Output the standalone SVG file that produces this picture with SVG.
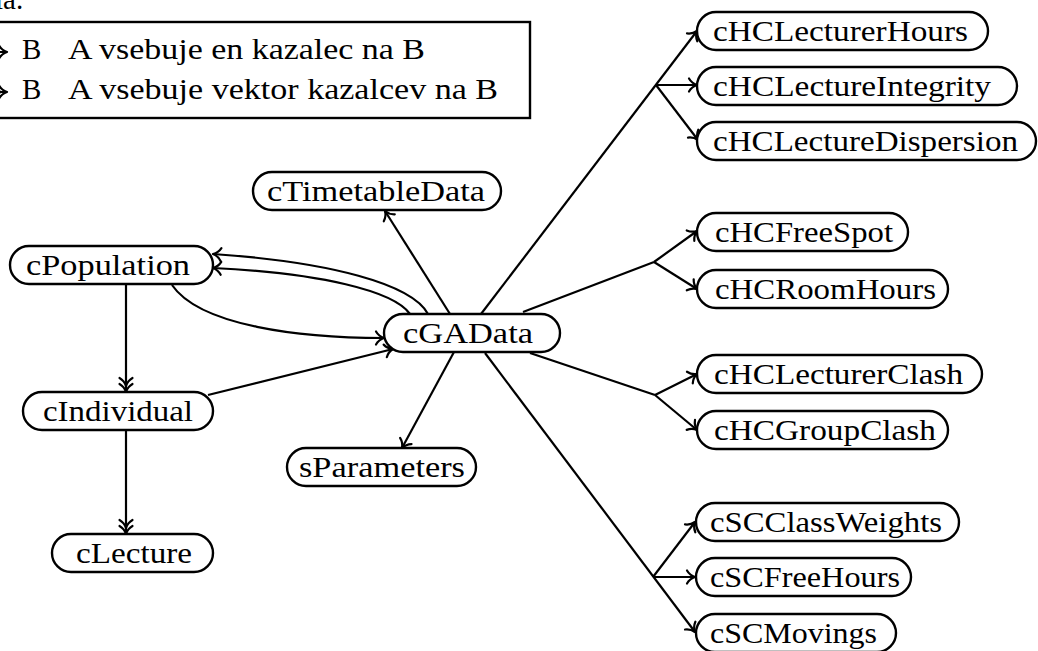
<svg xmlns="http://www.w3.org/2000/svg" width="1038" height="651" viewBox="0 0 1038 651">
  <style>
    .node rect { fill: #fff; stroke: #000; stroke-width: 2.4; }
    .node text, .lbl { font-family: "Liberation Serif", "Times New Roman", serif; font-size: 29px; fill: #000; }
    .node text { text-anchor: middle; }
    .edge { fill: none; stroke: #000; stroke-width: 2.2; }
    .one { marker-end: url(#arr); }
    .two { marker-end: url(#arr2); }
  </style>
  <defs>
    <marker id="arr" viewBox="-10 -8 12 16" refX="0" refY="0" markerWidth="12" markerHeight="16" markerUnits="userSpaceOnUse" orient="auto" overflow="visible">
      <path d="M -8 -6.5 C -6 -3 -2.5 -0.8 0 0 C -2.5 0.8 -6 3 -8 6.5" fill="none" stroke="#000" stroke-width="2.2" stroke-linecap="round" stroke-linejoin="round"/>
    </marker>
    <marker id="arr2" viewBox="-16 -8 18 16" refX="0" refY="0" markerWidth="18" markerHeight="16" markerUnits="userSpaceOnUse" orient="auto" overflow="visible">
      <path d="M -8 -6.5 C -6 -3 -2.5 -0.8 0 0 C -2.5 0.8 -6 3 -8 6.5 M -14 -6.5 C -12 -3 -8.5 -0.8 -6 0 C -8.5 0.8 -12 3 -14 6.5" fill="none" stroke="#000" stroke-width="2.2" stroke-linecap="round" stroke-linejoin="round"/>
    </marker>
  </defs>

  <!-- caption fragment and legend -->
  <g id="legend">
    <text class="lbl" x="-5" y="9">ia.</text>
    <rect x="-3" y="22" width="533" height="96" fill="none" stroke="#000" stroke-width="2.4"/>
    <path class="edge one" d="M -30 52 L 7 52"/>
    <path class="edge two" d="M -30 92 L 7 92"/>
    <text class="lbl" x="22" y="59">B</text>
    <text class="lbl" x="68" y="59" textLength="357" lengthAdjust="spacingAndGlyphs">A vsebuje en kazalec na B</text>
    <text class="lbl" x="22" y="99">B</text>
    <text class="lbl" x="68" y="99" textLength="430" lengthAdjust="spacingAndGlyphs">A vsebuje vektor kazalcev na B</text>
  </g>

  <!-- connectors -->
  <g id="edges">
    <path class="edge one" d="M 450 314 L 385 211"/>
    <path class="edge one" d="M 428 314 C 412 284 330 262 213 254"/>
    <path class="edge one" d="M 410 314 C 394 291 320 273 213 268"/>
    <path class="edge one" d="M 172 285 C 200 326 300 338 384 338"/>
    <path class="edge one" d="M 208 395 L 393 349"/>
    <path class="edge two" d="M 126 285 L 126 392"/>
    <path class="edge two" d="M 126 431 L 126 534"/>
    <path class="edge one" d="M 454 352 L 402 448"/>
    <!-- hard constraints: lecturer / lecture -->
    <path class="edge one" d="M 481 314 L 697 31"/>
    <path class="edge one" d="M 656 85 L 697 85"/>
    <path class="edge one" d="M 656 85 L 698 140"/>
    <!-- hard constraints: rooms -->
    <path class="edge" d="M 523 312 L 654 262"/>
    <path class="edge one" d="M 654 262 L 697 231"/>
    <path class="edge one" d="M 654 262 L 697 289"/>
    <!-- hard constraints: clashes -->
    <path class="edge" d="M 530 353 L 655 395"/>
    <path class="edge one" d="M 655 395 L 697 374"/>
    <path class="edge one" d="M 655 395 L 697 430"/>
    <!-- soft constraints -->
    <path class="edge one" d="M 485 353 L 695 632"/>
    <path class="edge one" d="M 653 577 L 695 522"/>
    <path class="edge one" d="M 653 577 L 695 577"/>
  </g>

  <!-- nodes -->
  <g id="cHCLecturerHours" class="node"><rect x="697" y="12" width="291" height="38" rx="19"/><text x="840.5" y="40.5" textLength="255" lengthAdjust="spacingAndGlyphs">cHCLecturerHours</text></g>
  <g id="cHCLectureIntegrity" class="node"><rect x="697" y="67" width="320" height="38" rx="19"/><text x="852" y="95.5" textLength="278" lengthAdjust="spacingAndGlyphs">cHCLectureIntegrity</text></g>
  <g id="cHCLectureDispersion" class="node"><rect x="697" y="122" width="339" height="38" rx="19"/><text x="865.5" y="150.5" textLength="305" lengthAdjust="spacingAndGlyphs">cHCLectureDispersion</text></g>
  <g id="cTimetableData" class="node"><rect x="253" y="172" width="248" height="38" rx="19"/><text x="376" y="200.5" textLength="218" lengthAdjust="spacingAndGlyphs">cTimetableData</text></g>
  <g id="cHCFreeSpot" class="node"><rect x="697" y="213" width="211" height="38" rx="19"/><text x="804" y="241.5" textLength="178" lengthAdjust="spacingAndGlyphs">cHCFreeSpot</text></g>
  <g id="cPopulation" class="node"><rect x="10" y="246" width="203" height="38" rx="19"/><text x="108" y="274.5" textLength="164" lengthAdjust="spacingAndGlyphs">cPopulation</text></g>
  <g id="cHCRoomHours" class="node"><rect x="697" y="270" width="251" height="38" rx="19"/><text x="825.5" y="298.5" textLength="221" lengthAdjust="spacingAndGlyphs">cHCRoomHours</text></g>
  <g id="cGAData" class="node"><rect x="384" y="314" width="176" height="38" rx="19"/><text x="468" y="342.5" textLength="130" lengthAdjust="spacingAndGlyphs">cGAData</text></g>
  <g id="cHCLecturerClash" class="node"><rect x="697" y="355" width="285" height="38" rx="19"/><text x="838.5" y="383.5" textLength="249" lengthAdjust="spacingAndGlyphs">cHCLecturerClash</text></g>
  <g id="cIndividual" class="node"><rect x="23" y="392" width="190" height="38" rx="19"/><text x="118" y="420.5" textLength="150" lengthAdjust="spacingAndGlyphs">cIndividual</text></g>
  <g id="cHCGroupClash" class="node"><rect x="697" y="411" width="251" height="38" rx="19"/><text x="825" y="439.5" textLength="222" lengthAdjust="spacingAndGlyphs">cHCGroupClash</text></g>
  <g id="sParameters" class="node"><rect x="287" y="448" width="189" height="38" rx="19"/><text x="382" y="476.5" textLength="166" lengthAdjust="spacingAndGlyphs">sParameters</text></g>
  <g id="cSCClassWeights" class="node"><rect x="696" y="503" width="263" height="38" rx="19"/><text x="826" y="531.5" textLength="232" lengthAdjust="spacingAndGlyphs">cSCClassWeights</text></g>
  <g id="cLecture" class="node"><rect x="52" y="534" width="161" height="38" rx="19"/><text x="134" y="562.5" textLength="116" lengthAdjust="spacingAndGlyphs">cLecture</text></g>
  <g id="cSCFreeHours" class="node"><rect x="696" y="558" width="215" height="38" rx="19"/><text x="805" y="586.5" textLength="190" lengthAdjust="spacingAndGlyphs">cSCFreeHours</text></g>
  <g id="cSCMovings" class="node"><rect x="696" y="614" width="200" height="38" rx="19"/><text x="793.5" y="642.5" textLength="167" lengthAdjust="spacingAndGlyphs">cSCMovings</text></g>
</svg>
